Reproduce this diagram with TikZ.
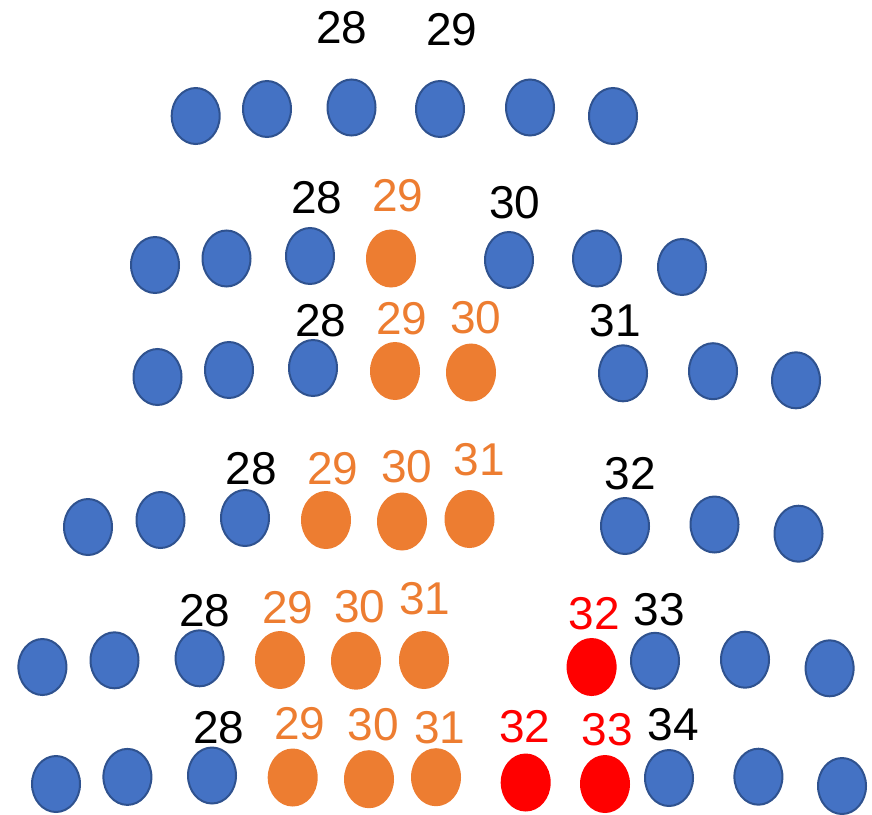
\documentclass[tikz,border=0pt]{standalone}
\usepackage{fontspec}
\setmainfont{Liberation Sans}
\usetikzlibrary{shapes.geometric}
\definecolor{ballblue}{HTML}{4472C4}
\definecolor{balledge}{HTML}{2F528F}
\definecolor{ballorange}{HTML}{ED7D31}
\definecolor{ballred}{HTML}{FF0000}
\tikzset{
  ball/.style={ellipse, inner sep=0pt, minimum width=48pt, minimum height=56pt, line width=2pt},
  bb/.style={ball, fill=ballblue, draw=balledge},
  ob/.style={ball, fill=ballorange, draw=ballorange},
  rb/.style={ball, fill=ballred, draw=ballred},
  lbl/.style={inner sep=0pt, anchor=base, font=\fontsize{46}{50}\selectfont},
  kl/.style={lbl, text=black},
  ol/.style={lbl, text=ballorange},
  rl/.style={lbl, text=ballred}
}
\begin{document}
\begin{tikzpicture}[x=1pt,y=-1pt]
\useasboundingbox (0,0) rectangle (872,814);
% Row 1
\node[bb] (r1a) at (195.7,116) {};
\node[bb] (r1b) at (267,109) {};
\node[bb] (r1c) at (351.5,107.5) {};
\node[bb] (r1d) at (440,109) {};
\node[bb] (r1e) at (530,107.5) {};
\node[bb] (r1f) at (613,116) {};
\node[kl] (t1a) at (342,43) {28};
\node[kl] (t1b) at (452,45) {29};
% Row 2
\node[bb] (r2a) at (155,265) {};
\node[bb] (r2b) at (226.5,258.5) {};
\node[bb] (r2c) at (310,256) {};
\node[ob] (r2d) at (391,258.5) {};
\node[bb] (r2e) at (509,260) {};
\node[bb] (r2f) at (597,258.5) {};
\node[bb] (r2g) at (682,267) {};
\node[kl] (t2a) at (316.6,213) {28};
\node[ol] (t2b) at (398,211.5) {29};
\node[kl] (t2c) at (514.6,218.5) {30};
% Row 3
\node[bb] (r3a) at (157.5,377) {};
\node[bb] (r3b) at (229,370) {};
\node[bb] (r3c) at (313,368) {};
\node[ob] (r3d) at (395,371) {};
\node[ob] (r3e) at (471,372.5) {};
\node[bb] (r3f) at (623,373.3) {};
\node[bb] (r3g) at (713,371.2) {};
\node[bb] (r3h) at (796,380.3) {};
\node[kl] (t3a) at (321,336.5) {28};
\node[ol] (t3b) at (402,334) {29};
\node[ol] (t3c) at (475.6,333.5) {30};
\node[kl] (t3d) at (615,336.5) {31};
% Row 4
\node[bb] (r4a) at (88,527) {};
\node[bb] (r4b) at (160.5,520) {};
\node[bb] (r4c) at (245,518) {};
\node[ob] (r4d) at (326,520) {};
\node[ob] (r4e) at (402,521.5) {};
\node[ob] (r4f) at (469.5,519) {};
\node[bb] (r4g) at (625,526) {};
\node[bb] (r4h) at (714.5,524.5) {};
\node[bb] (r4i) at (798.5,533.7) {};
\node[kl] (t4a) at (251.5,484.5) {28};
\node[ol] (t4b) at (333,484) {29};
\node[ol] (t4c) at (407,482) {30};
\node[ol] (t4d) at (479,475.5) {31};
\node[kl] (t4e) at (630,489.5) {32};
% Row 5
\node[bb] (r5a) at (42.4,667) {};
\node[bb] (r5b) at (114.5,660.3) {};
\node[bb] (r5c) at (199.6,658.3) {};
\node[ob] (r5d) at (280,660) {};
\node[ob] (r5e) at (356,660.7) {};
\node[ob] (r5f) at (424,660) {};
\node[rb] (r5g) at (591.6,667) {};
\node[bb] (r5h) at (655,660.8) {};
\node[bb] (r5i) at (745,659.7) {};
\node[bb] (r5j) at (829.6,668.3) {};
\node[kl] (t5a) at (205,626) {28};
\node[ol] (t5b) at (288,623.5) {29};
\node[ol] (t5c) at (360,622) {30};
\node[ol] (t5d) at (425,614.5) {31};
\node[rl] (t5e) at (594,629) {32};
\node[kl] (t5f) at (659,625) {33};
% Row 6
\node[bb] (r6a) at (56,784) {};
\node[bb] (r6b) at (127.4,776.9) {};
\node[bb] (r6c) at (212,775.5) {};
\node[ob] (r6d) at (292.7,777.5) {};
\node[ob] (r6e) at (369,779.2) {};
\node[ob] (r6f) at (436,777.2) {};
\node[rb] (r6g) at (525.7,782.5) {};
\node[rb] (r6h) at (605,784) {};
\node[bb] (r6i) at (669,778) {};
\node[bb] (r6j) at (758.4,776.7) {};
\node[bb] (r6k) at (842,786) {};
\node[kl] (t6a) at (218.7,743) {28};
\node[ol] (t6b) at (300,739.5) {29};
\node[ol] (t6c) at (373.5,740) {30};
\node[ol] (t6d) at (440,743) {31};
\node[rl] (t6e) at (524.6,742) {32};
\node[rl] (t6f) at (607,745.5) {33};
\node[kl] (t6g) at (673,740) {34};
\end{tikzpicture}
\end{document}
